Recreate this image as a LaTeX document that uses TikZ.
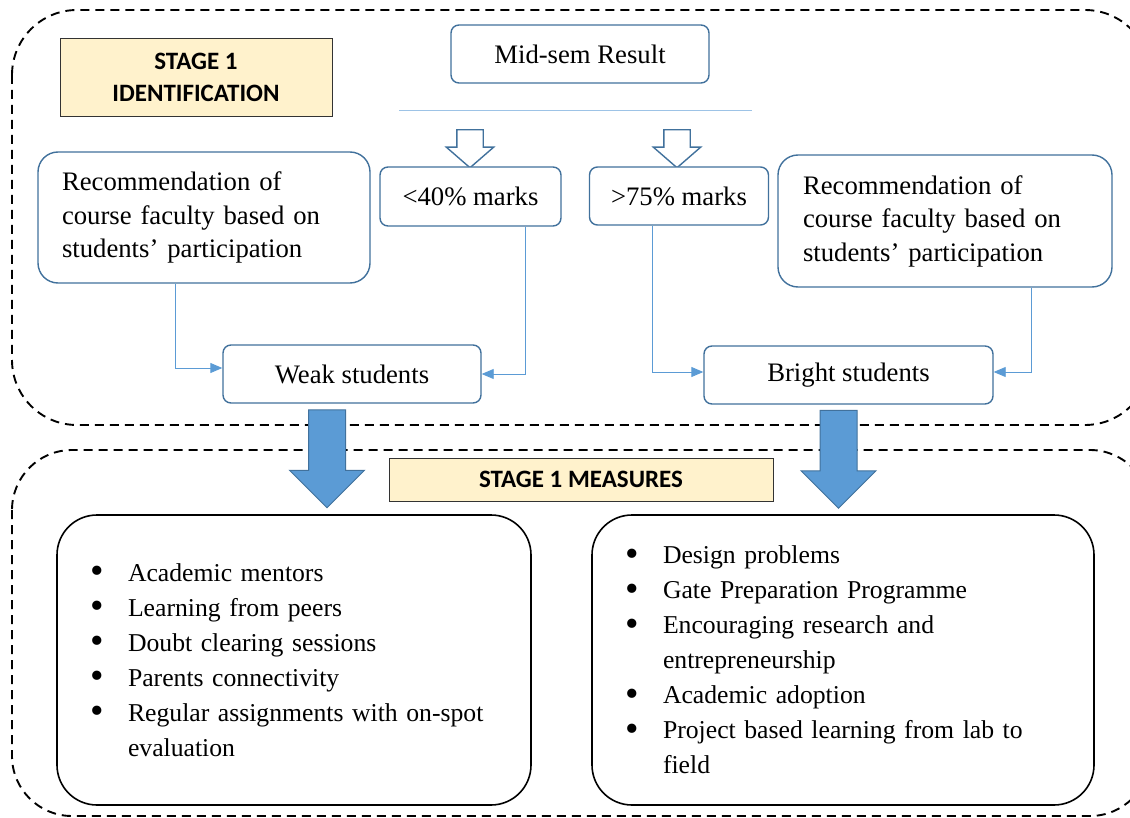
\documentclass[tikz,border=0pt]{standalone}
\usepackage{fontspec}
\setmainfont{Liberation Serif}
\newfontfamily\calibri{Carlito}
\usetikzlibrary{arrows.meta,shapes.arrows}
\definecolor{boxblue}{HTML}{41719C}
\definecolor{linkblue}{HTML}{5B9BD5}
\definecolor{paleline}{HTML}{9DC3E6}
\definecolor{stageyellow}{HTML}{FFF2CC}
\newcommand{\bul}{\makebox[38pt][l]{\raisebox{-0.1em}{\scalebox{1.5}{\textbullet}}}}
\newcommand{\cont}{\hspace*{38pt}}
\begin{document}
\begin{tikzpicture}[x=1pt,y=-1pt,
  zone/.style={draw=black,line width=1.9pt,dash pattern=on 9pt off 6pt},
  stagebox/.style={draw=black!80,line width=0.8pt,fill=stageyellow,inner sep=0pt,
    align=center,font=\calibri\bfseries\fontsize{25}{32}\selectfont},
  bluebox/.style={draw=boxblue,line width=1.4pt,fill=white,inner sep=0pt,
    align=center,font=\fontsize{26.7}{33.5}\selectfont},
  listbox/.style={draw=black,line width=1.6pt,rounded corners=40,inner xsep=33pt,
    inner ysep=0pt,minimum height=290,align=left,font=\fontsize{25.7}{35}\selectfont},
  hollowarrow/.style={single arrow,rotate=-90,draw=boxblue,line width=1.4pt,fill=white,
    inner xsep=0pt,inner ysep=12.5pt,minimum height=38,single arrow head extend=10.5,
    single arrow tip angle=98},
  bigarrow/.style={single arrow,rotate=-90,draw=boxblue,line width=1pt,fill=linkblue,
    inner xsep=0pt,inner ysep=18pt,minimum height=98,single arrow head extend=19,
    single arrow tip angle=90},
  conn/.style={draw=linkblue,line width=0.9pt,-{Triangle[length=12pt,width=10pt]}}
]
  \useasboundingbox (0,0) rectangle (1130,818);
  \clip (0,0) rectangle (1130,818);

  % dashed stage regions
  \draw[zone,rounded corners=65] (12,10) rectangle (1150,425);
  \draw[zone,rounded corners=60] (12,450) rectangle (1150,816);

  \node[stagebox,minimum width=272,minimum height=78] (stageOne) at (196,77) {STAGE 1\\IDENTIFICATION};
  \node[bluebox,rounded corners=8,minimum width=258,minimum height=58] (midsem) at (580,54) {Mid-sem Result};

  \coordinate (splitL) at (399,110);
  \coordinate (splitR) at (752,110);
  \draw[paleline,line width=0.9pt] (splitL) -- (splitR);

  \node[hollowarrow] (downLow) at (470,143) {};
  \node[hollowarrow] (downHigh) at (677,143) {};

  \node[bluebox,rounded corners=8,minimum width=181,minimum height=59] (low) at (470.5,196.5) {<40\% marks};
  \node[bluebox,rounded corners=8,minimum width=179,minimum height=58] (high) at (679,196) {>75\% marks};

  \node[bluebox,rounded corners=20,minimum width=332,minimum height=131,text width=284,align=left] (recLeft) at (204,217.5)
    {Recommendation of\\course faculty based on\\students’ participation};
  \node[bluebox,rounded corners=20,minimum width=334,minimum height=132,text width=284,align=left] (recRight) at (945,221)
    {Recommendation of\\course faculty based on\\students’ participation};

  \node[bluebox,rounded corners=8,minimum width=258,minimum height=58] (weak) at (352,374) {Weak students};
  \node[bluebox,rounded corners=8,minimum width=289,minimum height=58] (bright) at (848.5,375) {Bright students};

  \draw[conn] ([xshift=-29pt]recLeft.south) |- ([yshift=6pt]weak.west);
  \draw[conn] ([xshift=55pt]low.south) |- (weak.east);
  \draw[conn] ([xshift=-27pt]high.south) |- ([yshift=3pt]bright.west);
  \draw[conn] ([xshift=86pt]recRight.south) |- ([yshift=3pt]bright.east);

  \node[bigarrow] (toWeak) at (327,449.5) {};
  \node[bigarrow] (toBright) at (838.5,450) {};

  \node[stagebox,minimum width=384,minimum height=43] (stageMeasures) at (581,479.5) {STAGE 1 MEASURES};

  \node[listbox,minimum width=474,text width=408] (weakList) at (294,660)
    {\bul Academic mentors\\
     \bul Learning from peers\\
     \bul Doubt clearing sessions\\
     \bul Parents connectivity\\
     \bul Regular assignments with on-spot\\
     \cont evaluation};
  \node[listbox,minimum width=502,text width=436] (brightList) at (843,660)
    {\bul Design problems\\
     \bul Gate Preparation Programme\\
     \bul Encouraging research and\\
     \cont entrepreneurship\\
     \bul Academic adoption\\
     \bul Project based learning from lab to\\
     \cont field};
\end{tikzpicture}
\end{document}
